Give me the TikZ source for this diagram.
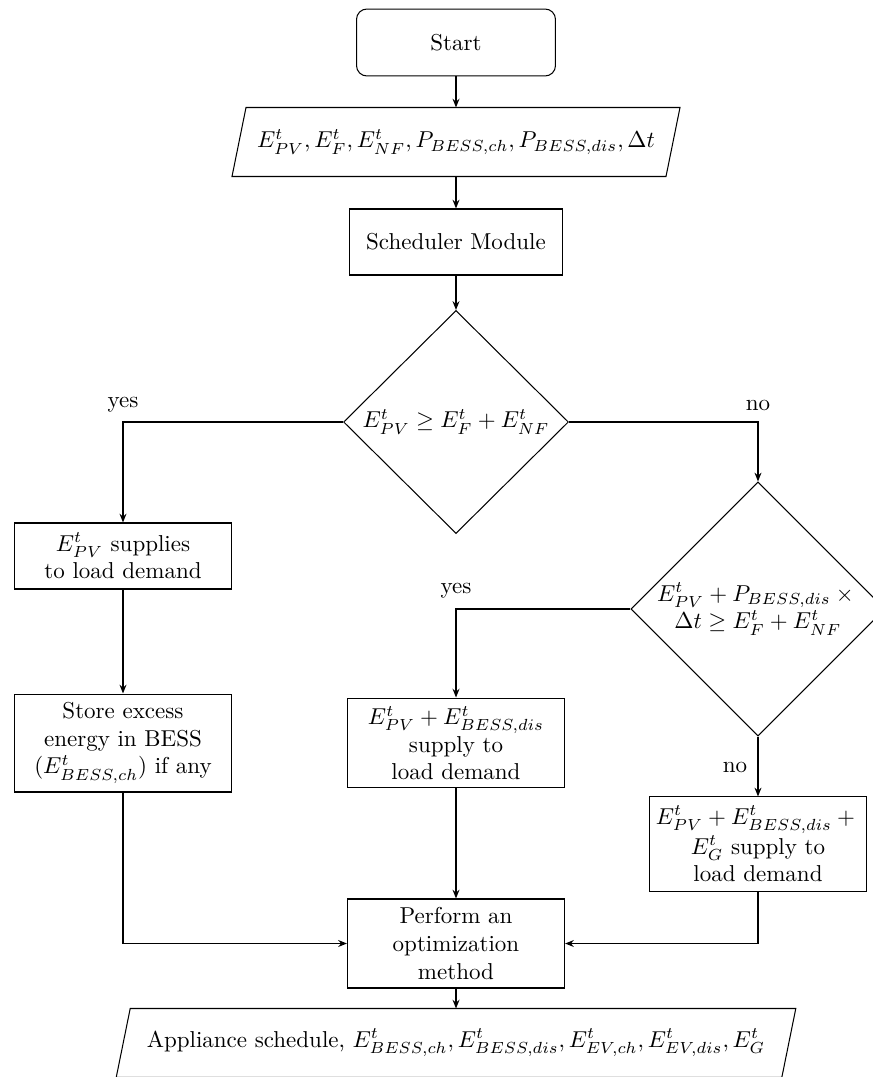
\documentclass[tikz,border=0pt]{standalone}
\usepackage{amsmath}
\usetikzlibrary{shapes.geometric,arrows.meta,calc}
\begin{document}
\begin{tikzpicture}[x=0.4348pt,y=-0.4348pt,
  box/.style={draw, rectangle, align=center, minimum width=94.4pt, inner sep=2pt, line width=0.45pt},
  startbox/.style={draw, rectangle, rounded corners=4.5pt, align=center, minimum width=86.5pt, minimum height=29.1pt, line width=0.45pt},
  iobox/.style={rectangle, align=center, minimum height=29.6pt, inner sep=2pt},
  decision/.style={draw, diamond, align=center, inner sep=0pt, line width=0.45pt},
  conn/.style={-{Stealth[length=3.8pt,width=3pt]}, line width=0.65pt},
  lbl/.style={inner sep=1pt}
]
\path[use as bounding box, fill=white] (0,0) rectangle (873,1077);

% nodes
\node[startbox] (start) at (456,42.5) {Start};
\node[iobox, minimum width=188.3pt] (in) at (456,142)
  {$E^t_{PV}, E^t_{F}, E^t_{NF}, P_{BESS,ch}, P_{BESS,dis}, \Delta t$};
\draw[line width=0.45pt] ($(in.north west)+(7,0)$) -- ($(in.north east)+(7,0)$)
  -- ($(in.south east)+(-7,0)$) -- ($(in.south west)+(-7,0)$) -- cycle;
\node[box, minimum width=92.6pt, minimum height=28.7pt] (sched) at (456,242) {Scheduler Module};
\node[decision, minimum width=97.8pt, minimum height=97pt] (d1) at (456,422)
  {$E^t_{PV} \geq E^t_{F} + E^t_{NF}$};
\node[decision, minimum width=109.6pt, minimum height=109.6pt] (d2) at (758,609)
  {$E^t_{PV} + P_{BESS,dis} \times{}$\\$\Delta t \geq E^t_{F} + E^t_{NF}$};
\node[box, minimum height=28.7pt] (b1) at (123,556)
  {$E^t_{PV}$ supplies\\to load demand};
\node[box, minimum height=42.6pt] (b2) at (123,743)
  {Store excess\\energy in BESS\\($E^t_{BESS,ch}$) if any};
\node[box, minimum height=39.1pt] (mid) at (456,743)
  {$E^t_{PV} + E^t_{BESS,dis}$\\supply to\\load demand};
\node[box, minimum height=40.9pt] (right) at (758,844)
  {$E^t_{PV} + E^t_{BESS,dis} +{}$\\$E^t_{G}$ supply to\\load demand};
\node[box, minimum height=38.7pt] (perf) at (456,943.5)
  {Perform an\\optimization\\method};
\node[iobox, minimum width=289pt] (out) at (456,1043)
  {Appliance schedule, $E^t_{BESS,ch}, E^t_{BESS,dis}, E^t_{EV,ch}, E^t_{EV,dis}, E^t_{G}$};
\draw[line width=0.45pt] ($(out.north west)+(7,0)$) -- ($(out.north east)+(7,0)$)
  -- ($(out.south east)+(-7,0)$) -- ($(out.south west)+(-7,0)$) -- cycle;

% labels
\node[lbl] (yes1) at (123,405) {yes};
\node[lbl] (no1) at (758,405) {no};
\node[lbl] (yes2) at (456,591) {yes};
\node[lbl] (no2) at (735,767) {no};

% connectors
\draw[conn] (start) -- (in);
\draw[conn] (in) -- (sched);
\draw[conn] (sched) -- (d1);
\draw[conn] (d1.west) -| (b1.north);
\draw[conn] (d1.east) -| (d2.north);
\draw[conn] (b1) -- (b2);
\draw[conn] (b2.south) |- (perf.west);
\draw[conn] (d2.west) -| (mid.north);
\draw[conn] (d2.south) -- (right.north);
\draw[conn] (mid) -- (perf);
\draw[conn] (right.south) |- (perf.east);
\draw[conn] (perf) -- (out);
\end{tikzpicture}
\end{document}
